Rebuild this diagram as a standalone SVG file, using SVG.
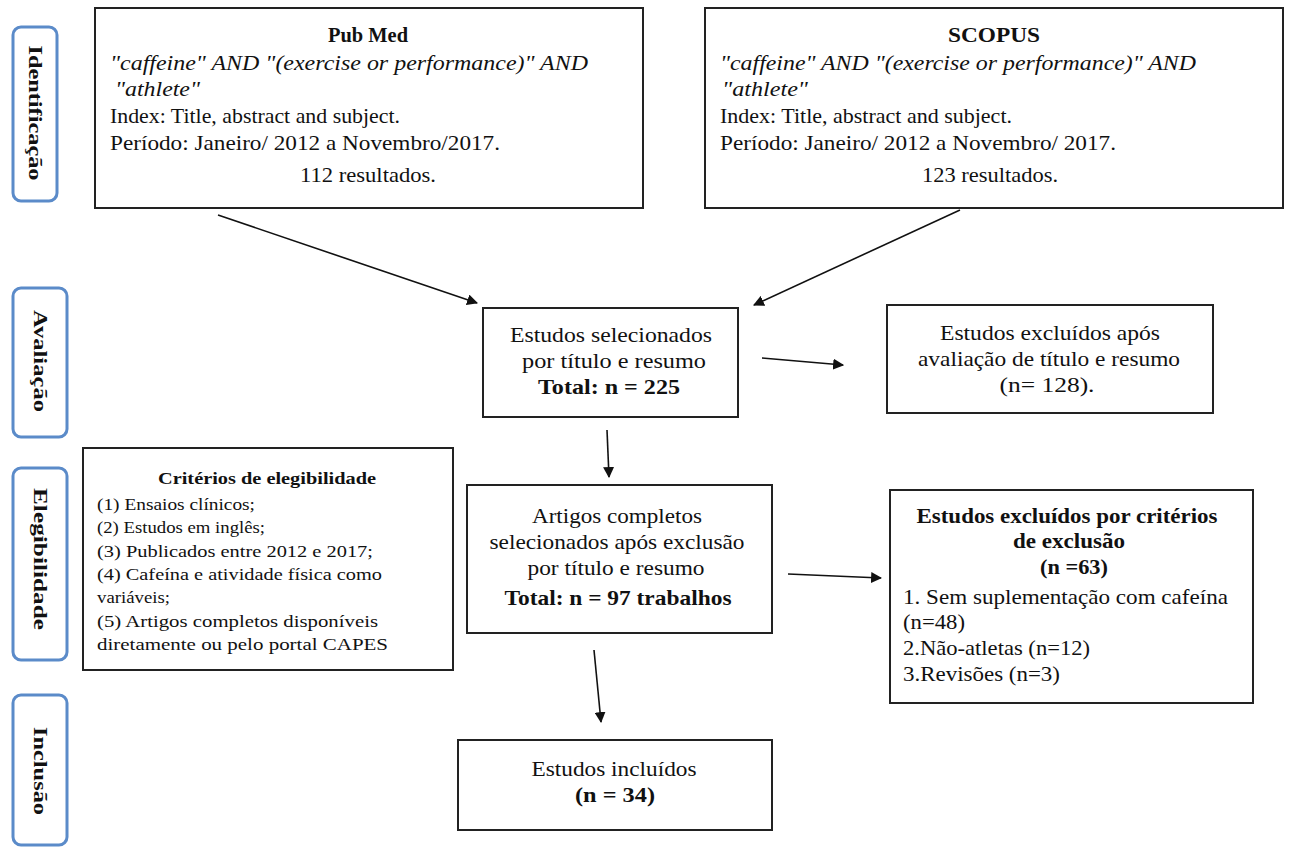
<svg xmlns="http://www.w3.org/2000/svg" width="1290" height="848" viewBox="0 0 1290 848">
<style>
text{font-family:"Liberation Serif","Times New Roman",serif;fill:#111;font-size:21px}
.box{fill:#fff;stroke:#222;stroke-width:2}
.phase{fill:#fff;stroke:#5b8bc9;stroke-width:3}
.ph{font-weight:bold;font-size:19px}
.b{font-weight:bold}
.i{font-style:italic}
.c{text-anchor:middle}
.sm{font-size:17px}
.conn line{stroke:#111;stroke-width:1.6}
</style>
<defs>
<marker id="ah" viewBox="0 0 10 10" refX="9" refY="5" markerWidth="11" markerHeight="11" markerUnits="userSpaceOnUse" orient="auto">
<path d="M0,0 L10,5 L0,10 z" fill="#111"/>
</marker>
</defs>
<rect width="1290" height="848" fill="#fff"/>

<g id="phase-identificacao"><rect class="phase" x="13" y="27" width="44" height="174" rx="8"/><text class="ph c" transform="translate(35,113) rotate(90)" dy="6" textLength="135" lengthAdjust="spacingAndGlyphs">Identificação</text></g>
<g id="phase-avaliacao"><rect class="phase" x="13" y="288" width="54" height="149" rx="8"/><text class="ph c" transform="translate(40,361) rotate(90)" dy="6" textLength="102" lengthAdjust="spacingAndGlyphs">Avaliação</text></g>
<g id="phase-elegibilidade"><rect class="phase" x="13" y="468" width="54" height="192" rx="8"/><text class="ph c" transform="translate(40,559) rotate(90)" dy="6" textLength="142" lengthAdjust="spacingAndGlyphs">Elegibilidade</text></g>
<g id="phase-inclusao"><rect class="phase" x="13" y="695" width="54" height="150" rx="8"/><text class="ph c" transform="translate(40,771) rotate(90)" dy="6" textLength="88" lengthAdjust="spacingAndGlyphs">Inclusão</text></g>

<g id="pubmed"><rect class="box" x="95" y="8" width="548" height="200"/>
<text class="b c" x="368" y="42" textLength="80" lengthAdjust="spacingAndGlyphs">Pub Med</text>
<text class="i" x="110" y="70" textLength="478" lengthAdjust="spacingAndGlyphs">"caffeine" AND "(exercise or performance)" AND</text>
<text class="i" x="115" y="96" textLength="85" lengthAdjust="spacingAndGlyphs">"athlete"</text>
<text x="110" y="123" textLength="290" lengthAdjust="spacingAndGlyphs">Index: Title, abstract and subject.</text>
<text x="110" y="150" textLength="390" lengthAdjust="spacingAndGlyphs">Período: Janeiro/ 2012 a Novembro/2017.</text>
<text class="c" x="368" y="182" textLength="136" lengthAdjust="spacingAndGlyphs">112 resultados.</text></g>

<g id="scopus"><rect class="box" x="705" y="8" width="578" height="200"/>
<text class="b c" x="994" y="42" textLength="92" lengthAdjust="spacingAndGlyphs">SCOPUS</text>
<text class="i" x="720" y="70" textLength="476" lengthAdjust="spacingAndGlyphs">"caffeine" AND "(exercise or performance)" AND</text>
<text class="i" x="722" y="96" textLength="86" lengthAdjust="spacingAndGlyphs">"athlete"</text>
<text x="720" y="123" textLength="292" lengthAdjust="spacingAndGlyphs">Index: Title, abstract and subject.</text>
<text x="720" y="150" textLength="396" lengthAdjust="spacingAndGlyphs">Período: Janeiro/ 2012 a Novembro/ 2017.</text>
<text class="c" x="990" y="182" textLength="136" lengthAdjust="spacingAndGlyphs">123 resultados.</text></g>

<g id="selecionados"><rect class="box" x="483" y="308" width="255" height="109"/>
<text class="c" x="611" y="342" textLength="202" lengthAdjust="spacingAndGlyphs">Estudos selecionados</text>
<text class="c" x="614" y="368" textLength="184" lengthAdjust="spacingAndGlyphs">por título e resumo</text>
<text class="b c" x="609" y="394" textLength="142" lengthAdjust="spacingAndGlyphs">Total: n = 225</text></g>

<g id="excluidos1"><rect class="box" x="887" y="305" width="326" height="108"/>
<text class="c" x="1050" y="340" textLength="220" lengthAdjust="spacingAndGlyphs">Estudos excluídos após</text>
<text class="c" x="1049" y="366" textLength="262" lengthAdjust="spacingAndGlyphs">avaliação de título e resumo</text>
<text class="c" x="1047" y="392" textLength="95" lengthAdjust="spacingAndGlyphs">(n= 128).</text></g>

<g id="criterios"><rect class="box" x="83" y="448" width="370" height="222"/>
<text class="b c sm" x="267" y="484" textLength="218" lengthAdjust="spacingAndGlyphs">Critérios  de elegibilidade</text>
<text class="sm" x="97" y="510" textLength="158" lengthAdjust="spacingAndGlyphs">(1) Ensaios clínicos;</text>
<text class="sm" x="97" y="533" textLength="168" lengthAdjust="spacingAndGlyphs">(2) Estudos em inglês;</text>
<text class="sm" x="97" y="557" textLength="276" lengthAdjust="spacingAndGlyphs">(3) Publicados entre 2012 e 2017;</text>
<text class="sm" x="97" y="580" textLength="285" lengthAdjust="spacingAndGlyphs">(4) Cafeína e atividade física como</text>
<text class="sm" x="97" y="603" textLength="73" lengthAdjust="spacingAndGlyphs">variáveis;</text>
<text class="sm" x="97" y="627" textLength="281" lengthAdjust="spacingAndGlyphs">(5) Artigos completos disponíveis</text>
<text class="sm" x="97" y="650" textLength="291" lengthAdjust="spacingAndGlyphs">diretamente  ou pelo portal CAPES</text></g>

<g id="artigos"><rect class="box" x="467" y="485" width="305" height="148"/>
<text class="c" x="617" y="523" textLength="170" lengthAdjust="spacingAndGlyphs">Artigos completos</text>
<text class="c" x="617" y="549" textLength="255" lengthAdjust="spacingAndGlyphs">selecionados após exclusão</text>
<text class="c" x="616" y="575" textLength="177" lengthAdjust="spacingAndGlyphs">por título e resumo</text>
<text class="b c" x="618" y="605" textLength="227" lengthAdjust="spacingAndGlyphs">Total: n = 97 trabalhos</text></g>

<g id="excluidos2"><rect class="box" x="890" y="490" width="363" height="213"/>
<text class="b c" x="1067" y="523" textLength="301" lengthAdjust="spacingAndGlyphs">Estudos excluídos por critérios</text>
<text class="b c" x="1069" y="548" textLength="112" lengthAdjust="spacingAndGlyphs">de exclusão</text>
<text class="b c" x="1074" y="574" textLength="68" lengthAdjust="spacingAndGlyphs">(n =63)</text>
<text x="903" y="604" textLength="325" lengthAdjust="spacingAndGlyphs">1. Sem suplementação com cafeína</text>
<text x="903" y="629" textLength="62" lengthAdjust="spacingAndGlyphs">(n=48)</text>
<text x="903" y="655" textLength="187" lengthAdjust="spacingAndGlyphs">2.Não-atletas (n=12)</text>
<text x="903" y="681" textLength="157" lengthAdjust="spacingAndGlyphs">3.Revisões (n=3)</text></g>

<g id="incluidos"><rect class="box" x="458" y="740" width="314" height="90"/>
<text class="c" x="614" y="776" textLength="165" lengthAdjust="spacingAndGlyphs">Estudos incluídos</text>
<text class="b c" x="615" y="802" textLength="80" lengthAdjust="spacingAndGlyphs">(n = 34)</text></g>

<g id="connectors" class="conn">
<line x1="218" y1="215" x2="477" y2="303" marker-end="url(#ah)"/>
<line x1="960" y1="210" x2="754" y2="305" marker-end="url(#ah)"/>
<line x1="762" y1="358" x2="843" y2="365" marker-end="url(#ah)"/>
<line x1="607" y1="430" x2="609" y2="477" marker-end="url(#ah)"/>
<line x1="788" y1="574" x2="881" y2="578" marker-end="url(#ah)"/>
<line x1="594" y1="650" x2="601" y2="722" marker-end="url(#ah)"/>
</g>
</svg>
